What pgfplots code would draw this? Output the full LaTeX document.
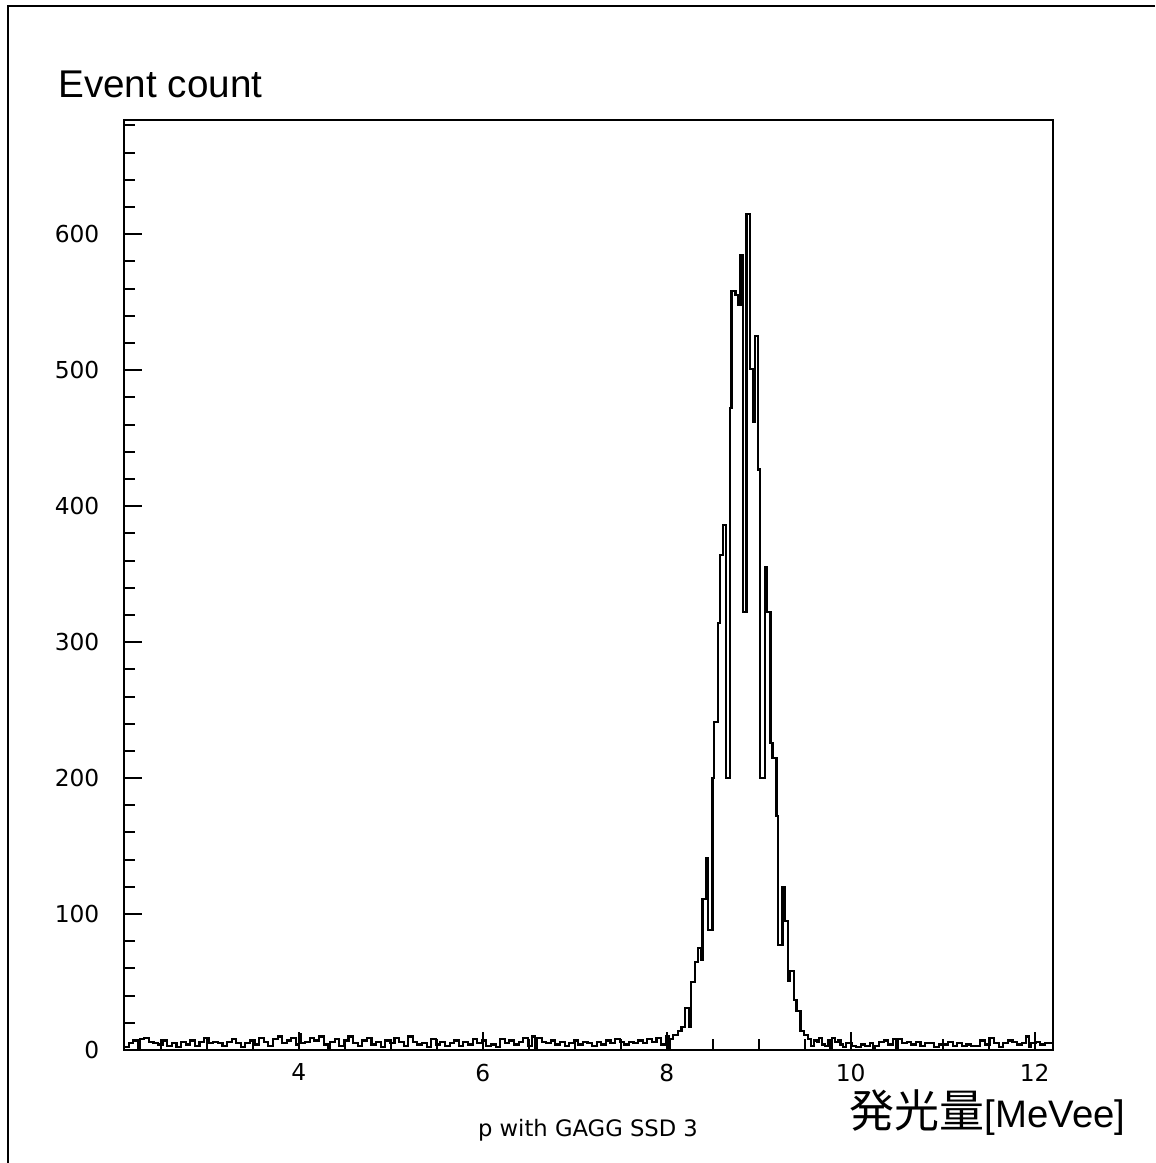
\documentclass[border=0pt]{standalone}
\usepackage{fontspec}
\usepackage{pgfplots}
\pgfplotsset{compat=1.18}
\setmainfont{Liberation Sans}
\newfontfamily\dejavu{DejaVu Sans}
\newfontfamily\cjk{Noto Sans CJK JP}
\begin{document}
\begin{tikzpicture}
\useasboundingbox (0pt,0pt) rectangle (346.5pt,-348.9pt);
\draw[line width=0.6pt] (2.5pt,-348.9pt) -- (2.5pt,-1.7pt) -- (346.5pt,-1.7pt);
\begin{axis}[
  at={(37.2pt,-315pt)}, anchor=south west,
  scale only axis, width=278.7pt, height=279pt,
  xmin=2.1, xmax=12.2, ymin=0, ymax=684,
  axis line style={line width=0.6pt},
  tick pos=left, tick align=inside,
  xtick={4,6,8,10,12},
  minor xtick={2.5,3,3.5,4.5,5,5.5,6.5,7,7.5,8.5,9,9.5,10.5,11,11.5,12},
  ytick={0,100,200,300,400,500,600},
  minor ytick={20,40,60,80,120,140,160,180,220,240,260,280,320,340,360,380,420,440,460,480,520,540,560,580,620,640,660,680},
  major tick length=5.4pt, minor tick length=3.2pt,
  every tick/.style={black, line width=0.6pt},
  /pgf/number format/assume math mode=true,
  xticklabel style={font=\dejavu\fontsize{7}{8}\selectfont, inner sep=0pt, anchor=north, yshift=-3.9pt},
  yticklabel style={font=\dejavu\fontsize{7}{8}\selectfont, inner sep=0pt, anchor=east, xshift=-7.2pt},
  clip=false,
]
\addplot[const plot mark left, black, line width=0.65pt, mark=none] coordinates {
(2.10,2) (2.15,5) (2.20,7) (2.25,0) (2.27,8) (2.32,9) (2.37,6) (2.42,5) (2.47,4) (2.52,7)
(2.57,3) (2.62,5) (2.67,2) (2.72,6) (2.77,4) (2.82,7) (2.87,3) (2.92,6) (2.97,9) (3.02,5)
(3.07,6) (3.12,5) (3.17,3) (3.22,6) (3.27,8) (3.32,5) (3.37,2) (3.42,5) (3.47,7) (3.52,4)
(3.57,9) (3.62,6) (3.67,3) (3.72,8) (3.77,10) (3.82,5) (3.87,7) (3.92,9) (3.97,4) (4.00,12)
(4.02,5) (4.07,6) (4.12,9) (4.17,7) (4.22,10) (4.27,4) (4.32,1) (4.34,6) (4.39,8) (4.44,3)
(4.49,7) (4.54,10) (4.59,5) (4.64,3) (4.69,7) (4.74,9) (4.79,4) (4.84,6) (4.89,2) (4.94,7)
(4.99,5) (5.04,9) (5.09,6) (5.14,3) (5.19,10) (5.24,6) (5.29,4) (5.34,5) (5.39,2) (5.44,8)
(5.49,4) (5.54,6) (5.59,3) (5.64,5) (5.69,7) (5.74,3) (5.79,6) (5.84,4) (5.89,8) (5.94,5)
(5.99,7) (6.04,3) (6.09,4) (6.14,2) (6.19,8) (6.24,5) (6.29,7) (6.34,4) (6.39,6) (6.44,9)
(6.49,3) (6.54,10) (6.57,0) (6.59,9) (6.64,6) (6.69,5) (6.74,7) (6.79,4) (6.84,6) (6.89,3)
(6.94,5) (6.99,7) (7.04,4) (7.09,6) (7.14,5) (7.19,3) (7.24,6) (7.29,4) (7.34,7) (7.39,5)
(7.44,8) (7.49,6) (7.54,4) (7.59,6) (7.64,5) (7.69,7) (7.74,5) (7.79,8) (7.84,6) (7.89,9)
(7.94,4) (7.99,10) (8.02,0) (8.04,8)
(8.071,11) (8.125,14) (8.162,17) (8.198,31) (8.245,17) (8.260,50) (8.307,65) (8.342,75)
(8.372,66) (8.390,111) (8.426,141) (8.448,88) (8.499,200) (8.513,241) (8.560,314) (8.578,364)
(8.614,386) (8.643,200) (8.687,472) (8.705,558) (8.749,555) (8.771,548) (8.803,585) (8.832,322)
(8.868,615) (8.904,501) (8.934,462) (8.959,525) (8.995,427) (9.013,200) (9.067,355) (9.092,322)
(9.129,226) (9.150,215) (9.194,172) (9.212,77) (9.260,120) (9.285,95) (9.321,51) (9.339,58)
(9.383,37) (9.412,29) (9.455,14) (9.491,11)
(9.538,8) (9.57,3) (9.60,7) (9.63,6) (9.66,9) (9.69,4) (9.72,3) (9.75,7) (9.78,1) (9.80,9)
(9.83,6) (9.86,7) (9.89,4) (9.92,2) (9.95,5) (9.98,5) (10.01,3) (10.06,2) (10.11,4) (10.16,3)
(10.21,5) (10.24,0) (10.26,3) (10.31,6) (10.36,7) (10.41,4) (10.46,8) (10.49,0) (10.51,8) (10.56,5)
(10.61,6) (10.66,4) (10.71,6) (10.76,3) (10.81,5) (10.86,5) (10.91,2) (10.96,4) (11.01,4) (11.06,6)
(11.11,3) (11.16,5) (11.21,3) (11.26,4) (11.31,3) (11.36,3) (11.41,7) (11.46,4) (11.51,9) (11.56,5)
(11.61,2) (11.66,5) (11.71,7) (11.76,6) (11.81,4) (11.86,5) (11.91,10) (11.94,2) (11.96,5) (12.01,6)
(12.06,4) (12.11,5) (12.16,5) (12.2,5)
};
\end{axis}
\node[anchor=base west, inner sep=0pt, font=\fontsize{11.6}{13}\selectfont] at (17.3pt,-29.3pt) {Event count};
\node[anchor=base, inner sep=0pt, font=\dejavu\fontsize{6.8}{8}\selectfont] at (176.4pt,-341pt) {p with GAGG SSD 3};
\node[anchor=base west, inner sep=0pt] at (254.7pt,-338.3pt) {{\cjk\fontsize{13.5}{15}\selectfont 発光量}{\fontsize{11.5}{13}\selectfont [MeVee]}};
\end{tikzpicture}
\end{document}
